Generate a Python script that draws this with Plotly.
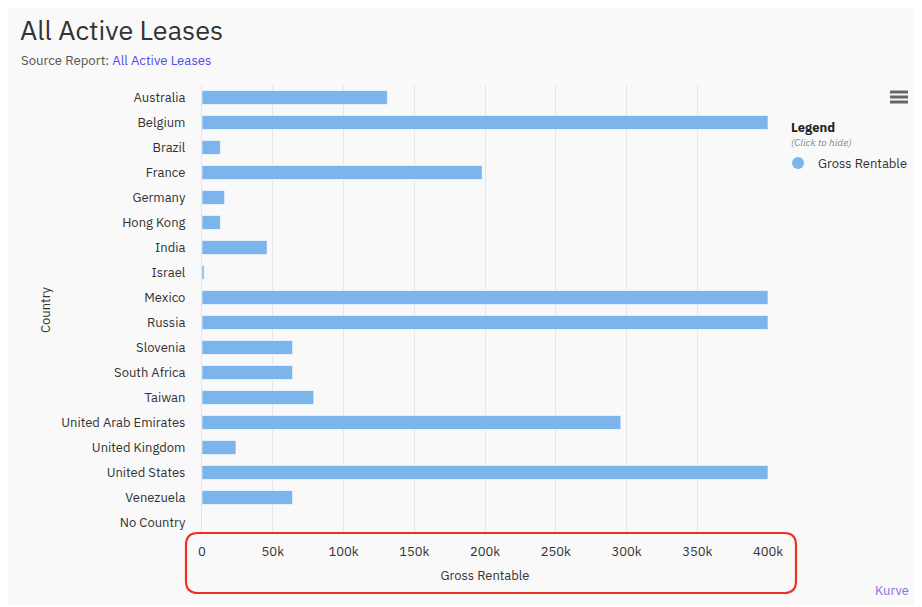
import plotly.graph_objects as go

countries = ["Australia", "Belgium", "Brazil", "France", "Germany", "Hong Kong", "India",
             "Israel", "Mexico", "Russia", "Slovenia", "South Africa", "Taiwan",
             "United Arab Emirates", "United Kingdom", "United States", "Venezuela", "No Country"]
gross_rentable = [131000, 400000, 13000, 198000, 16000, 13000, 46000,
                  1500, 400000, 400000, 64000, 64000, 79000,
                  296000, 24000, 400000, 64000, 0]
tick_vals = [0, 50000, 100000, 150000, 200000, 250000, 300000, 350000, 400000]
tick_text = ["0", "50k", "100k", "150k", "200k", "250k", "300k", "350k", "400k"]

# page body has an 8px margin, so figure coords = screen coords - 8
OFF = 8
W, H = 922 - OFF, 607 - OFF
PL, PR, PT, PB = 202, 768, 85, 535          # plot area in screen coords
L, R, T, B = PL - OFF, W - (PR - OFF), PT - OFF, H - (PB - OFF)
PW, PH = W - L - R, H - T - B

def px(x):  # screen x -> paper
    return (x - OFF - L) / PW

def py(y):  # screen y -> paper
    return (H - B - (y - OFF)) / PH

def cx(x):  # screen x -> container fraction
    return (x - OFF) / W

def cy(y):
    return 1 - (y - OFF) / H

FONT = "IBM Plex Sans, Noto Sans, sans-serif"
BAR = "#7cb4ec"

fig = go.Figure()
fig.add_trace(go.Bar(
    y=countries, x=gross_rentable, orientation="h",
    marker=dict(color=BAR, line=dict(color="rgba(255,255,255,0.6)", width=1)),
    name="Gross Rentable", showlegend=False, legendgroup="g",
))
fig.add_trace(go.Scatter(
    x=[None], y=[None], mode="markers", name="Gross Rentable", legendgroup="g",
    marker=dict(symbol="circle", size=13, color=BAR),
))

# rounded red rectangle (screen coords)
x0, x1, y0, y1, r = 186, 796, 533, 593, 12
path = (f"M {px(x0+r)},{py(y0)} L {px(x1-r)},{py(y0)} Q {px(x1)},{py(y0)} {px(x1)},{py(y0+r)} "
        f"L {px(x1)},{py(y1-r)} Q {px(x1)},{py(y1)} {px(x1-r)},{py(y1)} "
        f"L {px(x0+r)},{py(y1)} Q {px(x0)},{py(y1)} {px(x0)},{py(y1-r)} "
        f"L {px(x0)},{py(y0+r)} Q {px(x0)},{py(y0)} {px(x0+r)},{py(y0)} Z")

shapes = [
    dict(type="rect", xref="paper", yref="paper", x0=px(OFF), x1=px(922), y0=py(605), y1=py(OFF),
         fillcolor="#f9f9f9", line=dict(width=0), layer="below"),
    dict(type="path", xref="paper", yref="paper", path=path,
         line=dict(color="#f0301e", width=2.2), layer="above"),
]
for yy in (92, 97, 102):
    shapes.append(dict(type="line", xref="paper", yref="paper", x0=px(890), x1=px(908),
                       y0=py(yy), y1=py(yy), line=dict(color="#666666", width=3)))

annotations = [
    dict(text="All Active Leases", xref="paper", yref="paper", x=px(18), y=py(29),
         xanchor="left", yanchor="middle", showarrow=False,
         font=dict(size=27, color="#333333", family=FONT)),
    dict(text="Source Report: <span style='color:#4f4cf0'>All Active Leases</span>",
         xref="paper", yref="paper", x=px(19), y=py(60), xanchor="left", yanchor="middle",
         showarrow=False, font=dict(size=13.2, color="#555555", family=FONT)),
    dict(text="Country", xref="paper", yref="paper", x=px(45), y=py(310), textangle=-90,
         xanchor="center", yanchor="middle", showarrow=False,
         font=dict(size=13, color="#333333", family=FONT)),
    dict(text="Legend", xref="paper", yref="paper", x=px(789), y=py(128), xanchor="left",
         yanchor="middle", showarrow=False,
         font=dict(size=13, color="#222222", family=FONT, weight="bold")),
    dict(text="<i>(Click to hide)</i>", xref="paper", yref="paper", x=px(789), y=py(142),
         xanchor="left", yanchor="middle", showarrow=False,
         font=dict(size=10, color="#888888", family=FONT)),
    dict(text="Kurve", xref="paper", yref="paper", x=px(911), y=py(590), xanchor="right",
         yanchor="middle", showarrow=False,
         font=dict(size=13, color="#8f6fe0", family=FONT)),
]

fig.update_layout(
    width=W, height=H, autosize=False,
    margin=dict(l=L, r=R, t=T, b=B, pad=0),
    paper_bgcolor="white", plot_bgcolor="rgba(0,0,0,0)",
    font=dict(family=FONT, size=13, color="#333333"),
    bargap=0.44,
    shapes=shapes, annotations=annotations,
    showlegend=True,
    legend=dict(xref="container", yref="container", x=cx(778), y=cy(148),
                xanchor="left", yanchor="top",
                bgcolor="rgba(0,0,0,0)", font=dict(size=13, color="#333333", family=FONT),
                itemsizing="constant"),
    xaxis=dict(range=[0, 400000], tickvals=tick_vals, ticktext=tick_text,
               showgrid=True, gridcolor="#e6e6e6", gridwidth=1, zeroline=False,
               ticks="outside", ticklen=4, tickcolor="rgba(0,0,0,0)",
               title=dict(text="Gross Rentable", font=dict(size=13, color="#333333"), standoff=12),
               tickfont=dict(size=13, color="#333333"), fixedrange=True, automargin=False),
    yaxis=dict(autorange="reversed", type="category", showgrid=False, zeroline=False,
               showline=True, linecolor="#e0e6f0", linewidth=1,
               ticks="outside", ticklen=13, tickcolor="rgba(0,0,0,0)",
               tickfont=dict(size=13, color="#333333"), fixedrange=True, automargin=False),
)

fig.write_html("out.html")
